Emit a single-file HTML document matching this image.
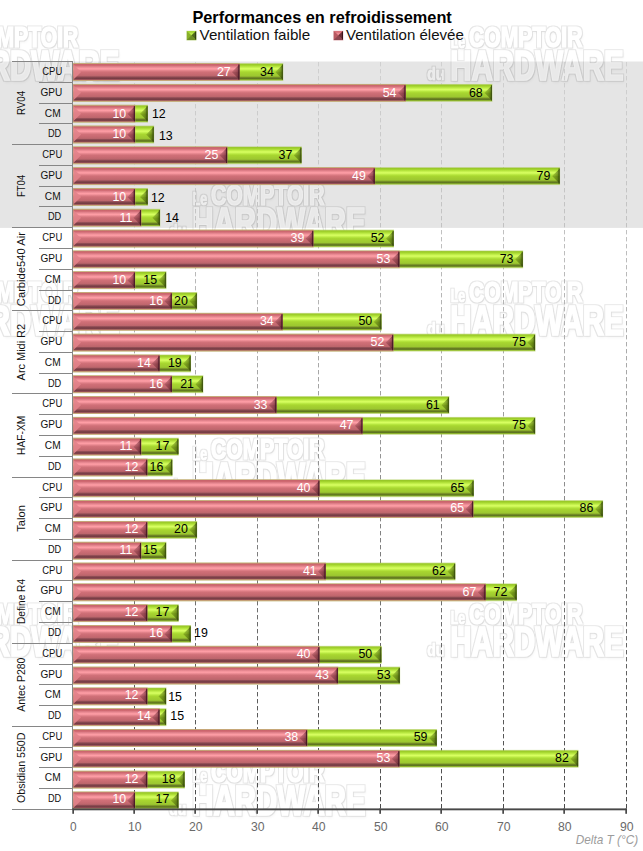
<!DOCTYPE html><html><head><meta charset="utf-8"><title>Performances en refroidissement</title>
<style>html,body{margin:0;padding:0;background:#fff;}body{width:643px;height:851px;overflow:hidden;}svg{display:block;}text{font-family:"Liberation Sans",sans-serif;}</style></head><body>
<svg width="643" height="851" viewBox="0 0 643 851">
<defs>
<linearGradient id="gr" x1="0" y1="0" x2="0" y2="1"><stop offset="0" stop-color="#c49474"/><stop offset="0.03" stop-color="#c8646c"/><stop offset="0.1" stop-color="#d06a72"/><stop offset="0.17" stop-color="#e0808a"/><stop offset="0.25" stop-color="#f4949c"/><stop offset="0.3" stop-color="#ff9ea6"/><stop offset="0.35" stop-color="#f4949c"/><stop offset="0.42" stop-color="#e08088"/><stop offset="0.5" stop-color="#d07078"/><stop offset="0.62" stop-color="#c86a72"/><stop offset="0.74" stop-color="#bc666c"/><stop offset="0.78" stop-color="#98525a"/><stop offset="0.85" stop-color="#7c4048"/><stop offset="0.9" stop-color="#743c44"/><stop offset="0.95" stop-color="#985058"/><stop offset="0.98" stop-color="#b47868"/><stop offset="1" stop-color="#c8a078"/></linearGradient>
<linearGradient id="gg" x1="0" y1="0" x2="0" y2="1"><stop offset="0" stop-color="#a4cc38"/><stop offset="0.03" stop-color="#98c828"/><stop offset="0.1" stop-color="#a4d42e"/><stop offset="0.17" stop-color="#b6e63e"/><stop offset="0.25" stop-color="#ccf656"/><stop offset="0.3" stop-color="#d8ff60"/><stop offset="0.35" stop-color="#ccf656"/><stop offset="0.42" stop-color="#b6e63e"/><stop offset="0.5" stop-color="#a8d630"/><stop offset="0.62" stop-color="#a2ce30"/><stop offset="0.74" stop-color="#9cc830"/><stop offset="0.79" stop-color="#88a82c"/><stop offset="0.85" stop-color="#687e22"/><stop offset="0.91" stop-color="#5c7420"/><stop offset="0.95" stop-color="#80a428"/><stop offset="0.98" stop-color="#98c030"/><stop offset="1" stop-color="#a8c858"/></linearGradient>
<linearGradient id="tr" x1="0" y1="0" x2="1" y2="0"><stop offset="0" stop-color="#7a303c" stop-opacity="0.22"/><stop offset="0.6" stop-color="#6e2834" stop-opacity="0.5"/><stop offset="1" stop-color="#501824" stop-opacity="0.72"/></linearGradient>
<linearGradient id="tg" x1="0" y1="0" x2="1" y2="0"><stop offset="0" stop-color="#4a6400" stop-opacity="0.2"/><stop offset="0.6" stop-color="#3e5604" stop-opacity="0.48"/><stop offset="1" stop-color="#2c4004" stop-opacity="0.72"/></linearGradient>
<linearGradient id="grid" gradientUnits="userSpaceOnUse" x1="0" y1="62" x2="0" y2="810">
<stop offset="0" stop-color="#d0d0d0"/><stop offset="0.22" stop-color="#c2c2c2"/><stop offset="0.4" stop-color="#aaaaaa"/><stop offset="0.81" stop-color="#626262"/><stop offset="1" stop-color="#4a4a4a"/>
</linearGradient>
<filter id="logo" x="-8%" y="-20%" width="116%" height="150%" color-interpolation-filters="sRGB">
 <feMorphology in="SourceAlpha" operator="dilate" radius="0.7" result="d"/>
 <feGaussianBlur in="d" stdDeviation="0.55" result="db"/>
 <feComposite in="db" in2="SourceAlpha" operator="out" result="ring"/>
 <feFlood flood-color="#000" flood-opacity="0.095"/><feComposite in2="ring" operator="in" result="ringc"/>
 <feGaussianBlur in="SourceAlpha" stdDeviation="1.3" result="sb"/>
 <feOffset in="sb" dx="0.8" dy="1.6" result="sbo"/>
 <feComposite in="sbo" in2="SourceAlpha" operator="out" result="sh"/>
 <feFlood flood-color="#000" flood-opacity="0.04"/><feComposite in2="sh" operator="in" result="shc"/>
 <feMorphology in="SourceAlpha" operator="erode" radius="0.8" result="e"/>
 <feComposite in="SourceAlpha" in2="e" operator="out" result="inner"/>
 <feFlood flood-color="#fff" flood-opacity="0.18"/><feComposite in2="inner" operator="in" result="innerc"/>
 <feFlood flood-color="#fff" flood-opacity="0.16"/><feComposite in2="SourceAlpha" operator="in" result="fillc"/>
 <feMerge><feMergeNode in="shc"/><feMergeNode in="ringc"/><feMergeNode in="fillc"/><feMergeNode in="innerc"/></feMerge>
</filter>
<g id="wm" filter="url(#logo)" fill="#fff" stroke="#fff" stroke-linejoin="miter" font-weight="bold">
  <text x="19.5" y="21" font-size="29.3" stroke-width="1.2" textLength="113.5" lengthAdjust="spacingAndGlyphs">COMPTOIR</text>
  <text x="0.8" y="53.6" font-size="42.6" stroke-width="1.7" textLength="173.4" lengthAdjust="spacingAndGlyphs">HARDWARE</text>
  <text x="1.2" y="21.2" font-size="19" stroke-width="0.6" textLength="14.6" lengthAdjust="spacingAndGlyphs">Le</text>
  <text x="-22.3" y="53.8" font-size="19" stroke-width="0.6" textLength="17" lengthAdjust="spacingAndGlyphs">du</text>
</g>
</defs>
<rect x="0" y="0" width="643" height="851" fill="#ffffff"/>
<rect x="0" y="61.50" width="643" height="166.42" fill="#e5e5e5"/>
<use href="#wm" x="449.5" y="26.4"/>
<use href="#wm" x="449.5" y="281"/>
<use href="#wm" x="449.5" y="602.7"/>
<use href="#wm" x="-54.69999999999999" y="26.2"/>
<use href="#wm" x="-54.69999999999999" y="281"/>
<use href="#wm" x="-54.69999999999999" y="602.7"/>
<use href="#wm" x="191.5" y="183.6"/>
<use href="#wm" x="191.5" y="438.4"/>
<use href="#wm" x="191.5" y="761.2"/>
<line x1="134.5" y1="62.0" x2="134.5" y2="808.5" stroke="url(#grid)" stroke-width="1" stroke-dasharray="4.4 2.6"/>
<line x1="195.5" y1="62.0" x2="195.5" y2="808.5" stroke="url(#grid)" stroke-width="1" stroke-dasharray="4.4 2.6"/>
<line x1="257.5" y1="62.0" x2="257.5" y2="808.5" stroke="url(#grid)" stroke-width="1" stroke-dasharray="4.4 2.6"/>
<line x1="318.5" y1="62.0" x2="318.5" y2="808.5" stroke="url(#grid)" stroke-width="1" stroke-dasharray="4.4 2.6"/>
<line x1="380.5" y1="62.0" x2="380.5" y2="808.5" stroke="url(#grid)" stroke-width="1" stroke-dasharray="4.4 2.6"/>
<line x1="441.5" y1="62.0" x2="441.5" y2="808.5" stroke="url(#grid)" stroke-width="1" stroke-dasharray="4.4 2.6"/>
<line x1="503.5" y1="62.0" x2="503.5" y2="808.5" stroke="url(#grid)" stroke-width="1" stroke-dasharray="4.4 2.6"/>
<line x1="564.5" y1="62.0" x2="564.5" y2="808.5" stroke="url(#grid)" stroke-width="1" stroke-dasharray="4.4 2.6"/>
<line x1="626.5" y1="62.0" x2="626.5" y2="808.5" stroke="url(#grid)" stroke-width="1" stroke-dasharray="4.4 2.6"/>
<g stroke="#868686" stroke-width="1" shape-rendering="crispEdges">
<line x1="12" y1="61.5" x2="72.5" y2="61.5"/>
<line x1="12" y1="144.5" x2="72.5" y2="144.5"/>
<line x1="12" y1="227.5" x2="72.5" y2="227.5"/>
<line x1="12" y1="310.5" x2="72.5" y2="310.5"/>
<line x1="12" y1="393.5" x2="72.5" y2="393.5"/>
<line x1="12" y1="477.5" x2="72.5" y2="477.5"/>
<line x1="12" y1="560.5" x2="72.5" y2="560.5"/>
<line x1="12" y1="643.5" x2="72.5" y2="643.5"/>
<line x1="12" y1="726.5" x2="72.5" y2="726.5"/>
<line x1="12" y1="809.5" x2="72.5" y2="809.5"/>
<line x1="39" y1="82.5" x2="72.5" y2="82.5"/>
<line x1="39" y1="103.5" x2="72.5" y2="103.5"/>
<line x1="39" y1="123.5" x2="72.5" y2="123.5"/>
<line x1="39" y1="165.5" x2="72.5" y2="165.5"/>
<line x1="39" y1="186.5" x2="72.5" y2="186.5"/>
<line x1="39" y1="206.5" x2="72.5" y2="206.5"/>
<line x1="39" y1="248.5" x2="72.5" y2="248.5"/>
<line x1="39" y1="269.5" x2="72.5" y2="269.5"/>
<line x1="39" y1="290.5" x2="72.5" y2="290.5"/>
<line x1="39" y1="331.5" x2="72.5" y2="331.5"/>
<line x1="39" y1="352.5" x2="72.5" y2="352.5"/>
<line x1="39" y1="373.5" x2="72.5" y2="373.5"/>
<line x1="39" y1="414.5" x2="72.5" y2="414.5"/>
<line x1="39" y1="435.5" x2="72.5" y2="435.5"/>
<line x1="39" y1="456.5" x2="72.5" y2="456.5"/>
<line x1="39" y1="497.5" x2="72.5" y2="497.5"/>
<line x1="39" y1="518.5" x2="72.5" y2="518.5"/>
<line x1="39" y1="539.5" x2="72.5" y2="539.5"/>
<line x1="39" y1="580.5" x2="72.5" y2="580.5"/>
<line x1="39" y1="601.5" x2="72.5" y2="601.5"/>
<line x1="39" y1="622.5" x2="72.5" y2="622.5"/>
<line x1="39" y1="664.5" x2="72.5" y2="664.5"/>
<line x1="39" y1="684.5" x2="72.5" y2="684.5"/>
<line x1="39" y1="705.5" x2="72.5" y2="705.5"/>
<line x1="39" y1="747.5" x2="72.5" y2="747.5"/>
<line x1="39" y1="767.5" x2="72.5" y2="767.5"/>
<line x1="39" y1="788.5" x2="72.5" y2="788.5"/>
<line x1="72.5" y1="61.0" x2="72.5" y2="810.0"/>
</g>
<rect x="73.00" y="63.15" width="210.30" height="17.85" fill="#a8c850" opacity="0.6"/><rect x="73.50" y="63.80" width="209.40" height="16.50" fill="url(#gg)"/><path d="M73.50 64.60 L81.10 72.05 L73.50 79.50Z" fill="#b2da3c" opacity="0.9"/><path d="M282.90 64.60 L275.30 72.05 L282.90 79.50Z" fill="url(#tg)"/><path d="M282.90 72.05 L275.30 72.05 L282.90 79.50Z" fill="#000" opacity="0.06"/><rect x="281.80" y="64.30" width="1.1" height="15.50" fill="#3c5010" opacity="0.8"/>
<rect x="73.00" y="63.15" width="166.85" height="17.85" fill="#c8a078" opacity="0.8"/><rect x="73.50" y="63.80" width="165.95" height="16.50" fill="url(#gr)"/><path d="M73.50 64.60 L81.10 72.05 L73.50 79.50Z" fill="#e2838b" opacity="0.9"/><path d="M239.45 64.60 L231.85 72.05 L239.45 79.50Z" fill="url(#tr)"/><path d="M239.45 72.05 L231.85 72.05 L239.45 79.50Z" fill="#000" opacity="0.06"/><rect x="238.35" y="64.30" width="1.1" height="15.50" fill="#3c1420" opacity="0.8"/>
<rect x="73.00" y="83.96" width="419.40" height="17.85" fill="#a8c850" opacity="0.6"/><rect x="73.50" y="84.61" width="418.50" height="16.50" fill="url(#gg)"/><path d="M73.50 85.41 L81.10 92.86 L73.50 100.31Z" fill="#b2da3c" opacity="0.9"/><path d="M492.00 85.41 L484.40 92.86 L492.00 100.31Z" fill="url(#tg)"/><path d="M492.00 92.86 L484.40 92.86 L492.00 100.31Z" fill="#000" opacity="0.06"/><rect x="490.90" y="85.11" width="1.1" height="15.50" fill="#3c5010" opacity="0.8"/>
<rect x="73.00" y="83.96" width="332.90" height="17.85" fill="#c8a078" opacity="0.8"/><rect x="73.50" y="84.61" width="332.00" height="16.50" fill="url(#gr)"/><path d="M73.50 85.41 L81.10 92.86 L73.50 100.31Z" fill="#e2838b" opacity="0.9"/><path d="M405.50 85.41 L397.90 92.86 L405.50 100.31Z" fill="url(#tr)"/><path d="M405.50 92.86 L397.90 92.86 L405.50 100.31Z" fill="#000" opacity="0.06"/><rect x="404.40" y="85.11" width="1.1" height="15.50" fill="#3c1420" opacity="0.8"/>
<rect x="73.00" y="104.77" width="75.00" height="17.85" fill="#a8c850" opacity="0.6"/><rect x="73.50" y="105.42" width="74.10" height="16.50" fill="url(#gg)"/><path d="M73.50 106.22 L81.10 113.67 L73.50 121.12Z" fill="#b2da3c" opacity="0.9"/><path d="M147.60 106.22 L140.00 113.67 L147.60 121.12Z" fill="url(#tg)"/><path d="M147.60 113.67 L140.00 113.67 L147.60 121.12Z" fill="#000" opacity="0.06"/><rect x="146.50" y="105.92" width="1.1" height="15.50" fill="#3c5010" opacity="0.8"/>
<rect x="73.00" y="104.77" width="62.30" height="17.85" fill="#c8a078" opacity="0.8"/><rect x="73.50" y="105.42" width="61.40" height="16.50" fill="url(#gr)"/><path d="M73.50 106.22 L81.10 113.67 L73.50 121.12Z" fill="#e2838b" opacity="0.9"/><path d="M134.90 106.22 L127.30 113.67 L134.90 121.12Z" fill="url(#tr)"/><path d="M134.90 113.67 L127.30 113.67 L134.90 121.12Z" fill="#000" opacity="0.06"/><rect x="133.80" y="105.92" width="1.1" height="15.50" fill="#3c1420" opacity="0.8"/>
<rect x="73.00" y="125.58" width="81.15" height="17.85" fill="#a8c850" opacity="0.6"/><rect x="73.50" y="126.23" width="80.25" height="16.50" fill="url(#gg)"/><path d="M73.50 127.03 L81.10 134.48 L73.50 141.93Z" fill="#b2da3c" opacity="0.9"/><path d="M153.75 127.03 L146.15 134.48 L153.75 141.93Z" fill="url(#tg)"/><path d="M153.75 134.48 L146.15 134.48 L153.75 141.93Z" fill="#000" opacity="0.06"/><rect x="152.65" y="126.73" width="1.1" height="15.50" fill="#3c5010" opacity="0.8"/>
<rect x="73.00" y="125.58" width="62.30" height="17.85" fill="#c8a078" opacity="0.8"/><rect x="73.50" y="126.23" width="61.40" height="16.50" fill="url(#gr)"/><path d="M73.50 127.03 L81.10 134.48 L73.50 141.93Z" fill="#e2838b" opacity="0.9"/><path d="M134.90 127.03 L127.30 134.48 L134.90 141.93Z" fill="url(#tr)"/><path d="M134.90 134.48 L127.30 134.48 L134.90 141.93Z" fill="#000" opacity="0.06"/><rect x="133.80" y="126.73" width="1.1" height="15.50" fill="#3c1420" opacity="0.8"/>
<rect x="73.00" y="146.39" width="228.75" height="17.85" fill="#a8c850" opacity="0.6"/><rect x="73.50" y="147.04" width="227.85" height="16.50" fill="url(#gg)"/><path d="M73.50 147.84 L81.10 155.29 L73.50 162.74Z" fill="#b2da3c" opacity="0.9"/><path d="M301.35 147.84 L293.75 155.29 L301.35 162.74Z" fill="url(#tg)"/><path d="M301.35 155.29 L293.75 155.29 L301.35 162.74Z" fill="#000" opacity="0.06"/><rect x="300.25" y="147.54" width="1.1" height="15.50" fill="#3c5010" opacity="0.8"/>
<rect x="73.00" y="146.39" width="154.55" height="17.85" fill="#c8a078" opacity="0.8"/><rect x="73.50" y="147.04" width="153.65" height="16.50" fill="url(#gr)"/><path d="M73.50 147.84 L81.10 155.29 L73.50 162.74Z" fill="#e2838b" opacity="0.9"/><path d="M227.15 147.84 L219.55 155.29 L227.15 162.74Z" fill="url(#tr)"/><path d="M227.15 155.29 L219.55 155.29 L227.15 162.74Z" fill="#000" opacity="0.06"/><rect x="226.05" y="147.54" width="1.1" height="15.50" fill="#3c1420" opacity="0.8"/>
<rect x="73.00" y="167.20" width="487.05" height="17.85" fill="#a8c850" opacity="0.6"/><rect x="73.50" y="167.85" width="486.15" height="16.50" fill="url(#gg)"/><path d="M73.50 168.65 L81.10 176.10 L73.50 183.55Z" fill="#b2da3c" opacity="0.9"/><path d="M559.65 168.65 L552.05 176.10 L559.65 183.55Z" fill="url(#tg)"/><path d="M559.65 176.10 L552.05 176.10 L559.65 183.55Z" fill="#000" opacity="0.06"/><rect x="558.55" y="168.35" width="1.1" height="15.50" fill="#3c5010" opacity="0.8"/>
<rect x="73.00" y="167.20" width="302.15" height="17.85" fill="#c8a078" opacity="0.8"/><rect x="73.50" y="167.85" width="301.25" height="16.50" fill="url(#gr)"/><path d="M73.50 168.65 L81.10 176.10 L73.50 183.55Z" fill="#e2838b" opacity="0.9"/><path d="M374.75 168.65 L367.15 176.10 L374.75 183.55Z" fill="url(#tr)"/><path d="M374.75 176.10 L367.15 176.10 L374.75 183.55Z" fill="#000" opacity="0.06"/><rect x="373.65" y="168.35" width="1.1" height="15.50" fill="#3c1420" opacity="0.8"/>
<rect x="73.00" y="188.01" width="75.00" height="17.85" fill="#a8c850" opacity="0.6"/><rect x="73.50" y="188.66" width="74.10" height="16.50" fill="url(#gg)"/><path d="M73.50 189.46 L81.10 196.91 L73.50 204.36Z" fill="#b2da3c" opacity="0.9"/><path d="M147.60 189.46 L140.00 196.91 L147.60 204.36Z" fill="url(#tg)"/><path d="M147.60 196.91 L140.00 196.91 L147.60 204.36Z" fill="#000" opacity="0.06"/><rect x="146.50" y="189.16" width="1.1" height="15.50" fill="#3c5010" opacity="0.8"/>
<rect x="73.00" y="188.01" width="62.30" height="17.85" fill="#c8a078" opacity="0.8"/><rect x="73.50" y="188.66" width="61.40" height="16.50" fill="url(#gr)"/><path d="M73.50 189.46 L81.10 196.91 L73.50 204.36Z" fill="#e2838b" opacity="0.9"/><path d="M134.90 189.46 L127.30 196.91 L134.90 204.36Z" fill="url(#tr)"/><path d="M134.90 196.91 L127.30 196.91 L134.90 204.36Z" fill="#000" opacity="0.06"/><rect x="133.80" y="189.16" width="1.1" height="15.50" fill="#3c1420" opacity="0.8"/>
<rect x="73.00" y="208.82" width="87.30" height="17.85" fill="#a8c850" opacity="0.6"/><rect x="73.50" y="209.47" width="86.40" height="16.50" fill="url(#gg)"/><path d="M73.50 210.27 L81.10 217.72 L73.50 225.17Z" fill="#b2da3c" opacity="0.9"/><path d="M159.90 210.27 L152.30 217.72 L159.90 225.17Z" fill="url(#tg)"/><path d="M159.90 217.72 L152.30 217.72 L159.90 225.17Z" fill="#000" opacity="0.06"/><rect x="158.80" y="209.97" width="1.1" height="15.50" fill="#3c5010" opacity="0.8"/>
<rect x="73.00" y="208.82" width="68.45" height="17.85" fill="#c8a078" opacity="0.8"/><rect x="73.50" y="209.47" width="67.55" height="16.50" fill="url(#gr)"/><path d="M73.50 210.27 L81.10 217.72 L73.50 225.17Z" fill="#e2838b" opacity="0.9"/><path d="M141.05 210.27 L133.45 217.72 L141.05 225.17Z" fill="url(#tr)"/><path d="M141.05 217.72 L133.45 217.72 L141.05 225.17Z" fill="#000" opacity="0.06"/><rect x="139.95" y="209.97" width="1.1" height="15.50" fill="#3c1420" opacity="0.8"/>
<rect x="73.00" y="229.63" width="321.00" height="17.85" fill="#a8c850" opacity="0.6"/><rect x="73.50" y="230.28" width="320.10" height="16.50" fill="url(#gg)"/><path d="M73.50 231.08 L81.10 238.53 L73.50 245.98Z" fill="#b2da3c" opacity="0.9"/><path d="M393.60 231.08 L386.00 238.53 L393.60 245.98Z" fill="url(#tg)"/><path d="M393.60 238.53 L386.00 238.53 L393.60 245.98Z" fill="#000" opacity="0.06"/><rect x="392.50" y="230.78" width="1.1" height="15.50" fill="#3c5010" opacity="0.8"/>
<rect x="73.00" y="229.63" width="240.65" height="17.85" fill="#c8a078" opacity="0.8"/><rect x="73.50" y="230.28" width="239.75" height="16.50" fill="url(#gr)"/><path d="M73.50 231.08 L81.10 238.53 L73.50 245.98Z" fill="#e2838b" opacity="0.9"/><path d="M313.25 231.08 L305.65 238.53 L313.25 245.98Z" fill="url(#tr)"/><path d="M313.25 238.53 L305.65 238.53 L313.25 245.98Z" fill="#000" opacity="0.06"/><rect x="312.15" y="230.78" width="1.1" height="15.50" fill="#3c1420" opacity="0.8"/>
<rect x="73.00" y="250.44" width="450.15" height="17.85" fill="#a8c850" opacity="0.6"/><rect x="73.50" y="251.09" width="449.25" height="16.50" fill="url(#gg)"/><path d="M73.50 251.89 L81.10 259.34 L73.50 266.79Z" fill="#b2da3c" opacity="0.9"/><path d="M522.75 251.89 L515.15 259.34 L522.75 266.79Z" fill="url(#tg)"/><path d="M522.75 259.34 L515.15 259.34 L522.75 266.79Z" fill="#000" opacity="0.06"/><rect x="521.65" y="251.59" width="1.1" height="15.50" fill="#3c5010" opacity="0.8"/>
<rect x="73.00" y="250.44" width="326.75" height="17.85" fill="#c8a078" opacity="0.8"/><rect x="73.50" y="251.09" width="325.85" height="16.50" fill="url(#gr)"/><path d="M73.50 251.89 L81.10 259.34 L73.50 266.79Z" fill="#e2838b" opacity="0.9"/><path d="M399.35 251.89 L391.75 259.34 L399.35 266.79Z" fill="url(#tr)"/><path d="M399.35 259.34 L391.75 259.34 L399.35 266.79Z" fill="#000" opacity="0.06"/><rect x="398.25" y="251.59" width="1.1" height="15.50" fill="#3c1420" opacity="0.8"/>
<rect x="73.00" y="271.25" width="93.45" height="17.85" fill="#a8c850" opacity="0.6"/><rect x="73.50" y="271.90" width="92.55" height="16.50" fill="url(#gg)"/><path d="M73.50 272.70 L81.10 280.15 L73.50 287.60Z" fill="#b2da3c" opacity="0.9"/><path d="M166.05 272.70 L158.45 280.15 L166.05 287.60Z" fill="url(#tg)"/><path d="M166.05 280.15 L158.45 280.15 L166.05 287.60Z" fill="#000" opacity="0.06"/><rect x="164.95" y="272.40" width="1.1" height="15.50" fill="#3c5010" opacity="0.8"/>
<rect x="73.00" y="271.25" width="62.30" height="17.85" fill="#c8a078" opacity="0.8"/><rect x="73.50" y="271.90" width="61.40" height="16.50" fill="url(#gr)"/><path d="M73.50 272.70 L81.10 280.15 L73.50 287.60Z" fill="#e2838b" opacity="0.9"/><path d="M134.90 272.70 L127.30 280.15 L134.90 287.60Z" fill="url(#tr)"/><path d="M134.90 280.15 L127.30 280.15 L134.90 287.60Z" fill="#000" opacity="0.06"/><rect x="133.80" y="272.40" width="1.1" height="15.50" fill="#3c1420" opacity="0.8"/>
<rect x="73.00" y="292.06" width="124.20" height="17.85" fill="#a8c850" opacity="0.6"/><rect x="73.50" y="292.71" width="123.30" height="16.50" fill="url(#gg)"/><path d="M73.50 293.51 L81.10 300.96 L73.50 308.41Z" fill="#b2da3c" opacity="0.9"/><path d="M196.80 293.51 L189.20 300.96 L196.80 308.41Z" fill="url(#tg)"/><path d="M196.80 300.96 L189.20 300.96 L196.80 308.41Z" fill="#000" opacity="0.06"/><rect x="195.70" y="293.21" width="1.1" height="15.50" fill="#3c5010" opacity="0.8"/>
<rect x="73.00" y="292.06" width="99.20" height="17.85" fill="#c8a078" opacity="0.8"/><rect x="73.50" y="292.71" width="98.30" height="16.50" fill="url(#gr)"/><path d="M73.50 293.51 L81.10 300.96 L73.50 308.41Z" fill="#e2838b" opacity="0.9"/><path d="M171.80 293.51 L164.20 300.96 L171.80 308.41Z" fill="url(#tr)"/><path d="M171.80 300.96 L164.20 300.96 L171.80 308.41Z" fill="#000" opacity="0.06"/><rect x="170.70" y="293.21" width="1.1" height="15.50" fill="#3c1420" opacity="0.8"/>
<rect x="73.00" y="312.87" width="308.70" height="17.85" fill="#a8c850" opacity="0.6"/><rect x="73.50" y="313.52" width="307.80" height="16.50" fill="url(#gg)"/><path d="M73.50 314.32 L81.10 321.77 L73.50 329.22Z" fill="#b2da3c" opacity="0.9"/><path d="M381.30 314.32 L373.70 321.77 L381.30 329.22Z" fill="url(#tg)"/><path d="M381.30 321.77 L373.70 321.77 L381.30 329.22Z" fill="#000" opacity="0.06"/><rect x="380.20" y="314.02" width="1.1" height="15.50" fill="#3c5010" opacity="0.8"/>
<rect x="73.00" y="312.87" width="209.90" height="17.85" fill="#c8a078" opacity="0.8"/><rect x="73.50" y="313.52" width="209.00" height="16.50" fill="url(#gr)"/><path d="M73.50 314.32 L81.10 321.77 L73.50 329.22Z" fill="#e2838b" opacity="0.9"/><path d="M282.50 314.32 L274.90 321.77 L282.50 329.22Z" fill="url(#tr)"/><path d="M282.50 321.77 L274.90 321.77 L282.50 329.22Z" fill="#000" opacity="0.06"/><rect x="281.40" y="314.02" width="1.1" height="15.50" fill="#3c1420" opacity="0.8"/>
<rect x="73.00" y="333.68" width="462.45" height="17.85" fill="#a8c850" opacity="0.6"/><rect x="73.50" y="334.33" width="461.55" height="16.50" fill="url(#gg)"/><path d="M73.50 335.13 L81.10 342.58 L73.50 350.03Z" fill="#b2da3c" opacity="0.9"/><path d="M535.05 335.13 L527.45 342.58 L535.05 350.03Z" fill="url(#tg)"/><path d="M535.05 342.58 L527.45 342.58 L535.05 350.03Z" fill="#000" opacity="0.06"/><rect x="533.95" y="334.83" width="1.1" height="15.50" fill="#3c5010" opacity="0.8"/>
<rect x="73.00" y="333.68" width="320.60" height="17.85" fill="#c8a078" opacity="0.8"/><rect x="73.50" y="334.33" width="319.70" height="16.50" fill="url(#gr)"/><path d="M73.50 335.13 L81.10 342.58 L73.50 350.03Z" fill="#e2838b" opacity="0.9"/><path d="M393.20 335.13 L385.60 342.58 L393.20 350.03Z" fill="url(#tr)"/><path d="M393.20 342.58 L385.60 342.58 L393.20 350.03Z" fill="#000" opacity="0.06"/><rect x="392.10" y="334.83" width="1.1" height="15.50" fill="#3c1420" opacity="0.8"/>
<rect x="73.00" y="354.49" width="118.05" height="17.85" fill="#a8c850" opacity="0.6"/><rect x="73.50" y="355.14" width="117.15" height="16.50" fill="url(#gg)"/><path d="M73.50 355.94 L81.10 363.39 L73.50 370.84Z" fill="#b2da3c" opacity="0.9"/><path d="M190.65 355.94 L183.05 363.39 L190.65 370.84Z" fill="url(#tg)"/><path d="M190.65 363.39 L183.05 363.39 L190.65 370.84Z" fill="#000" opacity="0.06"/><rect x="189.55" y="355.64" width="1.1" height="15.50" fill="#3c5010" opacity="0.8"/>
<rect x="73.00" y="354.49" width="86.90" height="17.85" fill="#c8a078" opacity="0.8"/><rect x="73.50" y="355.14" width="86.00" height="16.50" fill="url(#gr)"/><path d="M73.50 355.94 L81.10 363.39 L73.50 370.84Z" fill="#e2838b" opacity="0.9"/><path d="M159.50 355.94 L151.90 363.39 L159.50 370.84Z" fill="url(#tr)"/><path d="M159.50 363.39 L151.90 363.39 L159.50 370.84Z" fill="#000" opacity="0.06"/><rect x="158.40" y="355.64" width="1.1" height="15.50" fill="#3c1420" opacity="0.8"/>
<rect x="73.00" y="375.30" width="130.35" height="17.85" fill="#a8c850" opacity="0.6"/><rect x="73.50" y="375.95" width="129.45" height="16.50" fill="url(#gg)"/><path d="M73.50 376.75 L81.10 384.20 L73.50 391.65Z" fill="#b2da3c" opacity="0.9"/><path d="M202.95 376.75 L195.35 384.20 L202.95 391.65Z" fill="url(#tg)"/><path d="M202.95 384.20 L195.35 384.20 L202.95 391.65Z" fill="#000" opacity="0.06"/><rect x="201.85" y="376.45" width="1.1" height="15.50" fill="#3c5010" opacity="0.8"/>
<rect x="73.00" y="375.30" width="99.20" height="17.85" fill="#c8a078" opacity="0.8"/><rect x="73.50" y="375.95" width="98.30" height="16.50" fill="url(#gr)"/><path d="M73.50 376.75 L81.10 384.20 L73.50 391.65Z" fill="#e2838b" opacity="0.9"/><path d="M171.80 376.75 L164.20 384.20 L171.80 391.65Z" fill="url(#tr)"/><path d="M171.80 384.20 L164.20 384.20 L171.80 391.65Z" fill="#000" opacity="0.06"/><rect x="170.70" y="376.45" width="1.1" height="15.50" fill="#3c1420" opacity="0.8"/>
<rect x="73.00" y="396.11" width="376.35" height="17.85" fill="#a8c850" opacity="0.6"/><rect x="73.50" y="396.76" width="375.45" height="16.50" fill="url(#gg)"/><path d="M73.50 397.56 L81.10 405.01 L73.50 412.46Z" fill="#b2da3c" opacity="0.9"/><path d="M448.95 397.56 L441.35 405.01 L448.95 412.46Z" fill="url(#tg)"/><path d="M448.95 405.01 L441.35 405.01 L448.95 412.46Z" fill="#000" opacity="0.06"/><rect x="447.85" y="397.26" width="1.1" height="15.50" fill="#3c5010" opacity="0.8"/>
<rect x="73.00" y="396.11" width="203.75" height="17.85" fill="#c8a078" opacity="0.8"/><rect x="73.50" y="396.76" width="202.85" height="16.50" fill="url(#gr)"/><path d="M73.50 397.56 L81.10 405.01 L73.50 412.46Z" fill="#e2838b" opacity="0.9"/><path d="M276.35 397.56 L268.75 405.01 L276.35 412.46Z" fill="url(#tr)"/><path d="M276.35 405.01 L268.75 405.01 L276.35 412.46Z" fill="#000" opacity="0.06"/><rect x="275.25" y="397.26" width="1.1" height="15.50" fill="#3c1420" opacity="0.8"/>
<rect x="73.00" y="416.92" width="462.45" height="17.85" fill="#a8c850" opacity="0.6"/><rect x="73.50" y="417.57" width="461.55" height="16.50" fill="url(#gg)"/><path d="M73.50 418.37 L81.10 425.82 L73.50 433.27Z" fill="#b2da3c" opacity="0.9"/><path d="M535.05 418.37 L527.45 425.82 L535.05 433.27Z" fill="url(#tg)"/><path d="M535.05 425.82 L527.45 425.82 L535.05 433.27Z" fill="#000" opacity="0.06"/><rect x="533.95" y="418.07" width="1.1" height="15.50" fill="#3c5010" opacity="0.8"/>
<rect x="73.00" y="416.92" width="289.85" height="17.85" fill="#c8a078" opacity="0.8"/><rect x="73.50" y="417.57" width="288.95" height="16.50" fill="url(#gr)"/><path d="M73.50 418.37 L81.10 425.82 L73.50 433.27Z" fill="#e2838b" opacity="0.9"/><path d="M362.45 418.37 L354.85 425.82 L362.45 433.27Z" fill="url(#tr)"/><path d="M362.45 425.82 L354.85 425.82 L362.45 433.27Z" fill="#000" opacity="0.06"/><rect x="361.35" y="418.07" width="1.1" height="15.50" fill="#3c1420" opacity="0.8"/>
<rect x="73.00" y="437.73" width="105.75" height="17.85" fill="#a8c850" opacity="0.6"/><rect x="73.50" y="438.38" width="104.85" height="16.50" fill="url(#gg)"/><path d="M73.50 439.18 L81.10 446.63 L73.50 454.08Z" fill="#b2da3c" opacity="0.9"/><path d="M178.35 439.18 L170.75 446.63 L178.35 454.08Z" fill="url(#tg)"/><path d="M178.35 446.63 L170.75 446.63 L178.35 454.08Z" fill="#000" opacity="0.06"/><rect x="177.25" y="438.88" width="1.1" height="15.50" fill="#3c5010" opacity="0.8"/>
<rect x="73.00" y="437.73" width="68.45" height="17.85" fill="#c8a078" opacity="0.8"/><rect x="73.50" y="438.38" width="67.55" height="16.50" fill="url(#gr)"/><path d="M73.50 439.18 L81.10 446.63 L73.50 454.08Z" fill="#e2838b" opacity="0.9"/><path d="M141.05 439.18 L133.45 446.63 L141.05 454.08Z" fill="url(#tr)"/><path d="M141.05 446.63 L133.45 446.63 L141.05 454.08Z" fill="#000" opacity="0.06"/><rect x="139.95" y="438.88" width="1.1" height="15.50" fill="#3c1420" opacity="0.8"/>
<rect x="73.00" y="458.54" width="99.60" height="17.85" fill="#a8c850" opacity="0.6"/><rect x="73.50" y="459.19" width="98.70" height="16.50" fill="url(#gg)"/><path d="M73.50 459.99 L81.10 467.44 L73.50 474.89Z" fill="#b2da3c" opacity="0.9"/><path d="M172.20 459.99 L164.60 467.44 L172.20 474.89Z" fill="url(#tg)"/><path d="M172.20 467.44 L164.60 467.44 L172.20 474.89Z" fill="#000" opacity="0.06"/><rect x="171.10" y="459.69" width="1.1" height="15.50" fill="#3c5010" opacity="0.8"/>
<rect x="73.00" y="458.54" width="74.60" height="17.85" fill="#c8a078" opacity="0.8"/><rect x="73.50" y="459.19" width="73.70" height="16.50" fill="url(#gr)"/><path d="M73.50 459.99 L81.10 467.44 L73.50 474.89Z" fill="#e2838b" opacity="0.9"/><path d="M147.20 459.99 L139.60 467.44 L147.20 474.89Z" fill="url(#tr)"/><path d="M147.20 467.44 L139.60 467.44 L147.20 474.89Z" fill="#000" opacity="0.06"/><rect x="146.10" y="459.69" width="1.1" height="15.50" fill="#3c1420" opacity="0.8"/>
<rect x="73.00" y="479.35" width="400.95" height="17.85" fill="#a8c850" opacity="0.6"/><rect x="73.50" y="480.00" width="400.05" height="16.50" fill="url(#gg)"/><path d="M73.50 480.80 L81.10 488.25 L73.50 495.70Z" fill="#b2da3c" opacity="0.9"/><path d="M473.55 480.80 L465.95 488.25 L473.55 495.70Z" fill="url(#tg)"/><path d="M473.55 488.25 L465.95 488.25 L473.55 495.70Z" fill="#000" opacity="0.06"/><rect x="472.45" y="480.50" width="1.1" height="15.50" fill="#3c5010" opacity="0.8"/>
<rect x="73.00" y="479.35" width="246.80" height="17.85" fill="#c8a078" opacity="0.8"/><rect x="73.50" y="480.00" width="245.90" height="16.50" fill="url(#gr)"/><path d="M73.50 480.80 L81.10 488.25 L73.50 495.70Z" fill="#e2838b" opacity="0.9"/><path d="M319.40 480.80 L311.80 488.25 L319.40 495.70Z" fill="url(#tr)"/><path d="M319.40 488.25 L311.80 488.25 L319.40 495.70Z" fill="#000" opacity="0.06"/><rect x="318.30" y="480.50" width="1.1" height="15.50" fill="#3c1420" opacity="0.8"/>
<rect x="73.00" y="500.16" width="530.10" height="17.85" fill="#a8c850" opacity="0.6"/><rect x="73.50" y="500.81" width="529.20" height="16.50" fill="url(#gg)"/><path d="M73.50 501.61 L81.10 509.06 L73.50 516.51Z" fill="#b2da3c" opacity="0.9"/><path d="M602.70 501.61 L595.10 509.06 L602.70 516.51Z" fill="url(#tg)"/><path d="M602.70 509.06 L595.10 509.06 L602.70 516.51Z" fill="#000" opacity="0.06"/><rect x="601.60" y="501.31" width="1.1" height="15.50" fill="#3c5010" opacity="0.8"/>
<rect x="73.00" y="500.16" width="400.55" height="17.85" fill="#c8a078" opacity="0.8"/><rect x="73.50" y="500.81" width="399.65" height="16.50" fill="url(#gr)"/><path d="M73.50 501.61 L81.10 509.06 L73.50 516.51Z" fill="#e2838b" opacity="0.9"/><path d="M473.15 501.61 L465.55 509.06 L473.15 516.51Z" fill="url(#tr)"/><path d="M473.15 509.06 L465.55 509.06 L473.15 516.51Z" fill="#000" opacity="0.06"/><rect x="472.05" y="501.31" width="1.1" height="15.50" fill="#3c1420" opacity="0.8"/>
<rect x="73.00" y="520.97" width="124.20" height="17.85" fill="#a8c850" opacity="0.6"/><rect x="73.50" y="521.62" width="123.30" height="16.50" fill="url(#gg)"/><path d="M73.50 522.42 L81.10 529.87 L73.50 537.32Z" fill="#b2da3c" opacity="0.9"/><path d="M196.80 522.42 L189.20 529.87 L196.80 537.32Z" fill="url(#tg)"/><path d="M196.80 529.87 L189.20 529.87 L196.80 537.32Z" fill="#000" opacity="0.06"/><rect x="195.70" y="522.12" width="1.1" height="15.50" fill="#3c5010" opacity="0.8"/>
<rect x="73.00" y="520.97" width="74.60" height="17.85" fill="#c8a078" opacity="0.8"/><rect x="73.50" y="521.62" width="73.70" height="16.50" fill="url(#gr)"/><path d="M73.50 522.42 L81.10 529.87 L73.50 537.32Z" fill="#e2838b" opacity="0.9"/><path d="M147.20 522.42 L139.60 529.87 L147.20 537.32Z" fill="url(#tr)"/><path d="M147.20 529.87 L139.60 529.87 L147.20 537.32Z" fill="#000" opacity="0.06"/><rect x="146.10" y="522.12" width="1.1" height="15.50" fill="#3c1420" opacity="0.8"/>
<rect x="73.00" y="541.78" width="93.45" height="17.85" fill="#a8c850" opacity="0.6"/><rect x="73.50" y="542.43" width="92.55" height="16.50" fill="url(#gg)"/><path d="M73.50 543.23 L81.10 550.68 L73.50 558.13Z" fill="#b2da3c" opacity="0.9"/><path d="M166.05 543.23 L158.45 550.68 L166.05 558.13Z" fill="url(#tg)"/><path d="M166.05 550.68 L158.45 550.68 L166.05 558.13Z" fill="#000" opacity="0.06"/><rect x="164.95" y="542.93" width="1.1" height="15.50" fill="#3c5010" opacity="0.8"/>
<rect x="73.00" y="541.78" width="68.45" height="17.85" fill="#c8a078" opacity="0.8"/><rect x="73.50" y="542.43" width="67.55" height="16.50" fill="url(#gr)"/><path d="M73.50 543.23 L81.10 550.68 L73.50 558.13Z" fill="#e2838b" opacity="0.9"/><path d="M141.05 543.23 L133.45 550.68 L141.05 558.13Z" fill="url(#tr)"/><path d="M141.05 550.68 L133.45 550.68 L141.05 558.13Z" fill="#000" opacity="0.06"/><rect x="139.95" y="542.93" width="1.1" height="15.50" fill="#3c1420" opacity="0.8"/>
<rect x="73.00" y="562.59" width="382.50" height="17.85" fill="#a8c850" opacity="0.6"/><rect x="73.50" y="563.24" width="381.60" height="16.50" fill="url(#gg)"/><path d="M73.50 564.04 L81.10 571.49 L73.50 578.94Z" fill="#b2da3c" opacity="0.9"/><path d="M455.10 564.04 L447.50 571.49 L455.10 578.94Z" fill="url(#tg)"/><path d="M455.10 571.49 L447.50 571.49 L455.10 578.94Z" fill="#000" opacity="0.06"/><rect x="454.00" y="563.74" width="1.1" height="15.50" fill="#3c5010" opacity="0.8"/>
<rect x="73.00" y="562.59" width="252.95" height="17.85" fill="#c8a078" opacity="0.8"/><rect x="73.50" y="563.24" width="252.05" height="16.50" fill="url(#gr)"/><path d="M73.50 564.04 L81.10 571.49 L73.50 578.94Z" fill="#e2838b" opacity="0.9"/><path d="M325.55 564.04 L317.95 571.49 L325.55 578.94Z" fill="url(#tr)"/><path d="M325.55 571.49 L317.95 571.49 L325.55 578.94Z" fill="#000" opacity="0.06"/><rect x="324.45" y="563.74" width="1.1" height="15.50" fill="#3c1420" opacity="0.8"/>
<rect x="73.00" y="583.40" width="444.00" height="17.85" fill="#a8c850" opacity="0.6"/><rect x="73.50" y="584.05" width="443.10" height="16.50" fill="url(#gg)"/><path d="M73.50 584.85 L81.10 592.30 L73.50 599.75Z" fill="#b2da3c" opacity="0.9"/><path d="M516.60 584.85 L509.00 592.30 L516.60 599.75Z" fill="url(#tg)"/><path d="M516.60 592.30 L509.00 592.30 L516.60 599.75Z" fill="#000" opacity="0.06"/><rect x="515.50" y="584.55" width="1.1" height="15.50" fill="#3c5010" opacity="0.8"/>
<rect x="73.00" y="583.40" width="412.85" height="17.85" fill="#c8a078" opacity="0.8"/><rect x="73.50" y="584.05" width="411.95" height="16.50" fill="url(#gr)"/><path d="M73.50 584.85 L81.10 592.30 L73.50 599.75Z" fill="#e2838b" opacity="0.9"/><path d="M485.45 584.85 L477.85 592.30 L485.45 599.75Z" fill="url(#tr)"/><path d="M485.45 592.30 L477.85 592.30 L485.45 599.75Z" fill="#000" opacity="0.06"/><rect x="484.35" y="584.55" width="1.1" height="15.50" fill="#3c1420" opacity="0.8"/>
<rect x="73.00" y="604.21" width="105.75" height="17.85" fill="#a8c850" opacity="0.6"/><rect x="73.50" y="604.86" width="104.85" height="16.50" fill="url(#gg)"/><path d="M73.50 605.66 L81.10 613.11 L73.50 620.56Z" fill="#b2da3c" opacity="0.9"/><path d="M178.35 605.66 L170.75 613.11 L178.35 620.56Z" fill="url(#tg)"/><path d="M178.35 613.11 L170.75 613.11 L178.35 620.56Z" fill="#000" opacity="0.06"/><rect x="177.25" y="605.36" width="1.1" height="15.50" fill="#3c5010" opacity="0.8"/>
<rect x="73.00" y="604.21" width="74.60" height="17.85" fill="#c8a078" opacity="0.8"/><rect x="73.50" y="604.86" width="73.70" height="16.50" fill="url(#gr)"/><path d="M73.50 605.66 L81.10 613.11 L73.50 620.56Z" fill="#e2838b" opacity="0.9"/><path d="M147.20 605.66 L139.60 613.11 L147.20 620.56Z" fill="url(#tr)"/><path d="M147.20 613.11 L139.60 613.11 L147.20 620.56Z" fill="#000" opacity="0.06"/><rect x="146.10" y="605.36" width="1.1" height="15.50" fill="#3c1420" opacity="0.8"/>
<rect x="73.00" y="625.02" width="118.05" height="17.85" fill="#a8c850" opacity="0.6"/><rect x="73.50" y="625.67" width="117.15" height="16.50" fill="url(#gg)"/><path d="M73.50 626.47 L81.10 633.92 L73.50 641.37Z" fill="#b2da3c" opacity="0.9"/><path d="M190.65 626.47 L183.05 633.92 L190.65 641.37Z" fill="url(#tg)"/><path d="M190.65 633.92 L183.05 633.92 L190.65 641.37Z" fill="#000" opacity="0.06"/><rect x="189.55" y="626.17" width="1.1" height="15.50" fill="#3c5010" opacity="0.8"/>
<rect x="73.00" y="625.02" width="99.20" height="17.85" fill="#c8a078" opacity="0.8"/><rect x="73.50" y="625.67" width="98.30" height="16.50" fill="url(#gr)"/><path d="M73.50 626.47 L81.10 633.92 L73.50 641.37Z" fill="#e2838b" opacity="0.9"/><path d="M171.80 626.47 L164.20 633.92 L171.80 641.37Z" fill="url(#tr)"/><path d="M171.80 633.92 L164.20 633.92 L171.80 641.37Z" fill="#000" opacity="0.06"/><rect x="170.70" y="626.17" width="1.1" height="15.50" fill="#3c1420" opacity="0.8"/>
<rect x="73.00" y="645.83" width="308.70" height="17.85" fill="#a8c850" opacity="0.6"/><rect x="73.50" y="646.48" width="307.80" height="16.50" fill="url(#gg)"/><path d="M73.50 647.28 L81.10 654.73 L73.50 662.18Z" fill="#b2da3c" opacity="0.9"/><path d="M381.30 647.28 L373.70 654.73 L381.30 662.18Z" fill="url(#tg)"/><path d="M381.30 654.73 L373.70 654.73 L381.30 662.18Z" fill="#000" opacity="0.06"/><rect x="380.20" y="646.98" width="1.1" height="15.50" fill="#3c5010" opacity="0.8"/>
<rect x="73.00" y="645.83" width="246.80" height="17.85" fill="#c8a078" opacity="0.8"/><rect x="73.50" y="646.48" width="245.90" height="16.50" fill="url(#gr)"/><path d="M73.50 647.28 L81.10 654.73 L73.50 662.18Z" fill="#e2838b" opacity="0.9"/><path d="M319.40 647.28 L311.80 654.73 L319.40 662.18Z" fill="url(#tr)"/><path d="M319.40 654.73 L311.80 654.73 L319.40 662.18Z" fill="#000" opacity="0.06"/><rect x="318.30" y="646.98" width="1.1" height="15.50" fill="#3c1420" opacity="0.8"/>
<rect x="73.00" y="666.64" width="327.15" height="17.85" fill="#a8c850" opacity="0.6"/><rect x="73.50" y="667.29" width="326.25" height="16.50" fill="url(#gg)"/><path d="M73.50 668.09 L81.10 675.54 L73.50 682.99Z" fill="#b2da3c" opacity="0.9"/><path d="M399.75 668.09 L392.15 675.54 L399.75 682.99Z" fill="url(#tg)"/><path d="M399.75 675.54 L392.15 675.54 L399.75 682.99Z" fill="#000" opacity="0.06"/><rect x="398.65" y="667.79" width="1.1" height="15.50" fill="#3c5010" opacity="0.8"/>
<rect x="73.00" y="666.64" width="265.25" height="17.85" fill="#c8a078" opacity="0.8"/><rect x="73.50" y="667.29" width="264.35" height="16.50" fill="url(#gr)"/><path d="M73.50 668.09 L81.10 675.54 L73.50 682.99Z" fill="#e2838b" opacity="0.9"/><path d="M337.85 668.09 L330.25 675.54 L337.85 682.99Z" fill="url(#tr)"/><path d="M337.85 675.54 L330.25 675.54 L337.85 682.99Z" fill="#000" opacity="0.06"/><rect x="336.75" y="667.79" width="1.1" height="15.50" fill="#3c1420" opacity="0.8"/>
<rect x="73.00" y="687.45" width="93.45" height="17.85" fill="#a8c850" opacity="0.6"/><rect x="73.50" y="688.10" width="92.55" height="16.50" fill="url(#gg)"/><path d="M73.50 688.90 L81.10 696.35 L73.50 703.80Z" fill="#b2da3c" opacity="0.9"/><path d="M166.05 688.90 L158.45 696.35 L166.05 703.80Z" fill="url(#tg)"/><path d="M166.05 696.35 L158.45 696.35 L166.05 703.80Z" fill="#000" opacity="0.06"/><rect x="164.95" y="688.60" width="1.1" height="15.50" fill="#3c5010" opacity="0.8"/>
<rect x="73.00" y="687.45" width="74.60" height="17.85" fill="#c8a078" opacity="0.8"/><rect x="73.50" y="688.10" width="73.70" height="16.50" fill="url(#gr)"/><path d="M73.50 688.90 L81.10 696.35 L73.50 703.80Z" fill="#e2838b" opacity="0.9"/><path d="M147.20 688.90 L139.60 696.35 L147.20 703.80Z" fill="url(#tr)"/><path d="M147.20 696.35 L139.60 696.35 L147.20 703.80Z" fill="#000" opacity="0.06"/><rect x="146.10" y="688.60" width="1.1" height="15.50" fill="#3c1420" opacity="0.8"/>
<rect x="73.00" y="708.26" width="93.45" height="17.85" fill="#a8c850" opacity="0.6"/><rect x="73.50" y="708.91" width="92.55" height="16.50" fill="url(#gg)"/><path d="M73.50 709.71 L81.10 717.16 L73.50 724.61Z" fill="#b2da3c" opacity="0.9"/><path d="M166.05 709.71 L158.45 717.16 L166.05 724.61Z" fill="url(#tg)"/><path d="M166.05 717.16 L158.45 717.16 L166.05 724.61Z" fill="#000" opacity="0.06"/><rect x="164.95" y="709.41" width="1.1" height="15.50" fill="#3c5010" opacity="0.8"/>
<rect x="73.00" y="708.26" width="86.90" height="17.85" fill="#c8a078" opacity="0.8"/><rect x="73.50" y="708.91" width="86.00" height="16.50" fill="url(#gr)"/><path d="M73.50 709.71 L81.10 717.16 L73.50 724.61Z" fill="#e2838b" opacity="0.9"/><path d="M159.50 709.71 L151.90 717.16 L159.50 724.61Z" fill="url(#tr)"/><path d="M159.50 717.16 L151.90 717.16 L159.50 724.61Z" fill="#000" opacity="0.06"/><rect x="158.40" y="709.41" width="1.1" height="15.50" fill="#3c1420" opacity="0.8"/>
<rect x="73.00" y="729.07" width="364.05" height="17.85" fill="#a8c850" opacity="0.6"/><rect x="73.50" y="729.72" width="363.15" height="16.50" fill="url(#gg)"/><path d="M73.50 730.52 L81.10 737.97 L73.50 745.42Z" fill="#b2da3c" opacity="0.9"/><path d="M436.65 730.52 L429.05 737.97 L436.65 745.42Z" fill="url(#tg)"/><path d="M436.65 737.97 L429.05 737.97 L436.65 745.42Z" fill="#000" opacity="0.06"/><rect x="435.55" y="730.22" width="1.1" height="15.50" fill="#3c5010" opacity="0.8"/>
<rect x="73.00" y="729.07" width="234.50" height="17.85" fill="#c8a078" opacity="0.8"/><rect x="73.50" y="729.72" width="233.60" height="16.50" fill="url(#gr)"/><path d="M73.50 730.52 L81.10 737.97 L73.50 745.42Z" fill="#e2838b" opacity="0.9"/><path d="M307.10 730.52 L299.50 737.97 L307.10 745.42Z" fill="url(#tr)"/><path d="M307.10 737.97 L299.50 737.97 L307.10 745.42Z" fill="#000" opacity="0.06"/><rect x="306.00" y="730.22" width="1.1" height="15.50" fill="#3c1420" opacity="0.8"/>
<rect x="73.00" y="749.88" width="505.50" height="17.85" fill="#a8c850" opacity="0.6"/><rect x="73.50" y="750.53" width="504.60" height="16.50" fill="url(#gg)"/><path d="M73.50 751.33 L81.10 758.78 L73.50 766.23Z" fill="#b2da3c" opacity="0.9"/><path d="M578.10 751.33 L570.50 758.78 L578.10 766.23Z" fill="url(#tg)"/><path d="M578.10 758.78 L570.50 758.78 L578.10 766.23Z" fill="#000" opacity="0.06"/><rect x="577.00" y="751.03" width="1.1" height="15.50" fill="#3c5010" opacity="0.8"/>
<rect x="73.00" y="749.88" width="326.75" height="17.85" fill="#c8a078" opacity="0.8"/><rect x="73.50" y="750.53" width="325.85" height="16.50" fill="url(#gr)"/><path d="M73.50 751.33 L81.10 758.78 L73.50 766.23Z" fill="#e2838b" opacity="0.9"/><path d="M399.35 751.33 L391.75 758.78 L399.35 766.23Z" fill="url(#tr)"/><path d="M399.35 758.78 L391.75 758.78 L399.35 766.23Z" fill="#000" opacity="0.06"/><rect x="398.25" y="751.03" width="1.1" height="15.50" fill="#3c1420" opacity="0.8"/>
<rect x="73.00" y="770.69" width="111.90" height="17.85" fill="#a8c850" opacity="0.6"/><rect x="73.50" y="771.34" width="111.00" height="16.50" fill="url(#gg)"/><path d="M73.50 772.14 L81.10 779.59 L73.50 787.04Z" fill="#b2da3c" opacity="0.9"/><path d="M184.50 772.14 L176.90 779.59 L184.50 787.04Z" fill="url(#tg)"/><path d="M184.50 779.59 L176.90 779.59 L184.50 787.04Z" fill="#000" opacity="0.06"/><rect x="183.40" y="771.84" width="1.1" height="15.50" fill="#3c5010" opacity="0.8"/>
<rect x="73.00" y="770.69" width="74.60" height="17.85" fill="#c8a078" opacity="0.8"/><rect x="73.50" y="771.34" width="73.70" height="16.50" fill="url(#gr)"/><path d="M73.50 772.14 L81.10 779.59 L73.50 787.04Z" fill="#e2838b" opacity="0.9"/><path d="M147.20 772.14 L139.60 779.59 L147.20 787.04Z" fill="url(#tr)"/><path d="M147.20 779.59 L139.60 779.59 L147.20 787.04Z" fill="#000" opacity="0.06"/><rect x="146.10" y="771.84" width="1.1" height="15.50" fill="#3c1420" opacity="0.8"/>
<rect x="73.00" y="791.50" width="105.75" height="17.85" fill="#a8c850" opacity="0.6"/><rect x="73.50" y="792.15" width="104.85" height="16.50" fill="url(#gg)"/><path d="M73.50 792.95 L81.10 800.40 L73.50 807.85Z" fill="#b2da3c" opacity="0.9"/><path d="M178.35 792.95 L170.75 800.40 L178.35 807.85Z" fill="url(#tg)"/><path d="M178.35 800.40 L170.75 800.40 L178.35 807.85Z" fill="#000" opacity="0.06"/><rect x="177.25" y="792.65" width="1.1" height="15.50" fill="#3c5010" opacity="0.8"/>
<rect x="73.00" y="791.50" width="62.30" height="17.85" fill="#c8a078" opacity="0.8"/><rect x="73.50" y="792.15" width="61.40" height="16.50" fill="url(#gr)"/><path d="M73.50 792.95 L81.10 800.40 L73.50 807.85Z" fill="#e2838b" opacity="0.9"/><path d="M134.90 792.95 L127.30 800.40 L134.90 807.85Z" fill="url(#tr)"/><path d="M134.90 800.40 L127.30 800.40 L134.90 807.85Z" fill="#000" opacity="0.06"/><rect x="133.80" y="792.65" width="1.1" height="15.50" fill="#3c1420" opacity="0.8"/>
<g font-size="12.4">
<text x="230.7" y="76.1" fill="#ffffff" text-anchor="end">27</text>
<text x="273.9" y="76.1" fill="#000000" text-anchor="end">34</text>
<text x="396.5" y="96.9" fill="#ffffff" text-anchor="end">54</text>
<text x="482.7" y="96.9" fill="#000000" text-anchor="end">68</text>
<text x="126.2" y="117.6" fill="#ffffff" text-anchor="end">10</text>
<text x="151.9" y="117.6" fill="#000000" text-anchor="start">12</text>
<text x="126.2" y="138.4" fill="#ffffff" text-anchor="end">10</text>
<text x="158.9" y="139.5" fill="#000000" text-anchor="start">13</text>
<text x="218.4" y="159.2" fill="#ffffff" text-anchor="end">25</text>
<text x="292.3" y="159.2" fill="#000000" text-anchor="end">37</text>
<text x="365.8" y="180.0" fill="#ffffff" text-anchor="end">49</text>
<text x="550.3" y="180.0" fill="#000000" text-anchor="end">79</text>
<text x="126.2" y="200.8" fill="#ffffff" text-anchor="end">10</text>
<text x="150.9" y="201.6" fill="#000000" text-anchor="start">12</text>
<text x="132.4" y="221.5" fill="#ffffff" text-anchor="end">11</text>
<text x="165.2" y="221.5" fill="#000000" text-anchor="start">14</text>
<text x="304.4" y="242.3" fill="#ffffff" text-anchor="end">39</text>
<text x="384.5" y="242.3" fill="#000000" text-anchor="end">52</text>
<text x="390.4" y="263.1" fill="#ffffff" text-anchor="end">53</text>
<text x="513.5" y="263.1" fill="#000000" text-anchor="end">73</text>
<text x="126.2" y="283.9" fill="#ffffff" text-anchor="end">10</text>
<text x="157.1" y="283.9" fill="#000000" text-anchor="end">15</text>
<text x="163.1" y="304.6" fill="#ffffff" text-anchor="end">16</text>
<text x="187.9" y="304.6" fill="#000000" text-anchor="end">20</text>
<text x="273.7" y="325.4" fill="#ffffff" text-anchor="end">34</text>
<text x="372.2" y="325.4" fill="#000000" text-anchor="end">50</text>
<text x="384.3" y="346.2" fill="#ffffff" text-anchor="end">52</text>
<text x="525.8" y="346.2" fill="#000000" text-anchor="end">75</text>
<text x="150.8" y="367.0" fill="#ffffff" text-anchor="end">14</text>
<text x="181.7" y="367.0" fill="#000000" text-anchor="end">19</text>
<text x="163.1" y="387.8" fill="#ffffff" text-anchor="end">16</text>
<text x="194.0" y="387.8" fill="#000000" text-anchor="end">21</text>
<text x="267.5" y="408.5" fill="#ffffff" text-anchor="end">33</text>
<text x="439.7" y="408.5" fill="#000000" text-anchor="end">61</text>
<text x="353.5" y="429.3" fill="#ffffff" text-anchor="end">47</text>
<text x="525.8" y="429.3" fill="#000000" text-anchor="end">75</text>
<text x="132.4" y="450.1" fill="#ffffff" text-anchor="end">11</text>
<text x="169.4" y="450.1" fill="#000000" text-anchor="end">17</text>
<text x="138.5" y="470.9" fill="#ffffff" text-anchor="end">12</text>
<text x="163.3" y="470.9" fill="#000000" text-anchor="end">16</text>
<text x="310.5" y="491.6" fill="#ffffff" text-anchor="end">40</text>
<text x="464.3" y="491.6" fill="#000000" text-anchor="end">65</text>
<text x="464.1" y="512.4" fill="#ffffff" text-anchor="end">65</text>
<text x="593.3" y="512.4" fill="#000000" text-anchor="end">86</text>
<text x="138.5" y="533.2" fill="#ffffff" text-anchor="end">12</text>
<text x="187.9" y="533.2" fill="#000000" text-anchor="end">20</text>
<text x="132.4" y="554.0" fill="#ffffff" text-anchor="end">11</text>
<text x="157.1" y="554.0" fill="#000000" text-anchor="end">15</text>
<text x="316.7" y="574.8" fill="#ffffff" text-anchor="end">41</text>
<text x="445.9" y="574.8" fill="#000000" text-anchor="end">62</text>
<text x="476.4" y="595.5" fill="#ffffff" text-anchor="end">67</text>
<text x="507.3" y="595.5" fill="#000000" text-anchor="end">72</text>
<text x="138.5" y="616.3" fill="#ffffff" text-anchor="end">12</text>
<text x="169.4" y="616.3" fill="#000000" text-anchor="end">17</text>
<text x="163.1" y="637.1" fill="#ffffff" text-anchor="end">16</text>
<text x="194.0" y="637.1" fill="#000000" text-anchor="start">19</text>
<text x="310.5" y="657.9" fill="#ffffff" text-anchor="end">40</text>
<text x="372.2" y="657.9" fill="#000000" text-anchor="end">50</text>
<text x="329.0" y="678.6" fill="#ffffff" text-anchor="end">43</text>
<text x="390.6" y="678.6" fill="#000000" text-anchor="end">53</text>
<text x="138.5" y="699.4" fill="#ffffff" text-anchor="end">12</text>
<text x="168.2" y="701.4" fill="#000000" text-anchor="start">15</text>
<text x="150.8" y="720.2" fill="#ffffff" text-anchor="end">14</text>
<text x="170.3" y="720.2" fill="#000000" text-anchor="start">15</text>
<text x="298.2" y="741.0" fill="#ffffff" text-anchor="end">38</text>
<text x="427.5" y="741.0" fill="#000000" text-anchor="end">59</text>
<text x="390.4" y="761.8" fill="#ffffff" text-anchor="end">53</text>
<text x="568.8" y="761.8" fill="#000000" text-anchor="end">82</text>
<text x="138.5" y="782.5" fill="#ffffff" text-anchor="end">12</text>
<text x="175.6" y="782.5" fill="#000000" text-anchor="end">18</text>
<text x="126.2" y="803.3" fill="#ffffff" text-anchor="end">10</text>
<text x="169.4" y="803.3" fill="#000000" text-anchor="end">17</text>
</g>
<rect x="72.6" y="808.4" width="554.1" height="1.9" fill="#484848"/>
<rect x="72.3" y="808.5" width="1.7" height="5.3" fill="#484848"/>
<text x="70.1" y="830.6" font-size="11.9" fill="#6a6a6a" textLength="6.6" lengthAdjust="spacingAndGlyphs">0</text>
<rect x="133.3" y="808.5" width="1.7" height="5.3" fill="#484848"/>
<text x="127.9" y="830.6" font-size="11.9" fill="#6a6a6a" textLength="13.6" lengthAdjust="spacingAndGlyphs">10</text>
<rect x="194.3" y="808.5" width="1.7" height="5.3" fill="#484848"/>
<text x="188.9" y="830.6" font-size="11.9" fill="#6a6a6a" textLength="13.6" lengthAdjust="spacingAndGlyphs">20</text>
<rect x="256.3" y="808.5" width="1.7" height="5.3" fill="#484848"/>
<text x="250.9" y="830.6" font-size="11.9" fill="#6a6a6a" textLength="13.6" lengthAdjust="spacingAndGlyphs">30</text>
<rect x="317.3" y="808.5" width="1.7" height="5.3" fill="#484848"/>
<text x="311.9" y="830.6" font-size="11.9" fill="#6a6a6a" textLength="13.6" lengthAdjust="spacingAndGlyphs">40</text>
<rect x="379.3" y="808.5" width="1.7" height="5.3" fill="#484848"/>
<text x="373.9" y="830.6" font-size="11.9" fill="#6a6a6a" textLength="13.6" lengthAdjust="spacingAndGlyphs">50</text>
<rect x="440.3" y="808.5" width="1.7" height="5.3" fill="#484848"/>
<text x="434.9" y="830.6" font-size="11.9" fill="#6a6a6a" textLength="13.6" lengthAdjust="spacingAndGlyphs">60</text>
<rect x="502.3" y="808.5" width="1.7" height="5.3" fill="#484848"/>
<text x="496.9" y="830.6" font-size="11.9" fill="#6a6a6a" textLength="13.6" lengthAdjust="spacingAndGlyphs">70</text>
<rect x="563.3" y="808.5" width="1.7" height="5.3" fill="#484848"/>
<text x="557.9" y="830.6" font-size="11.9" fill="#6a6a6a" textLength="13.6" lengthAdjust="spacingAndGlyphs">80</text>
<rect x="625.3" y="808.5" width="1.7" height="5.3" fill="#484848"/>
<text x="619.9" y="830.6" font-size="11.9" fill="#6a6a6a" textLength="13.6" lengthAdjust="spacingAndGlyphs">90</text>
<text x="575.7" y="844.3" font-size="12.2" font-style="italic" fill="#9c9c9c" textLength="62.4" lengthAdjust="spacingAndGlyphs">Delta T (°C)</text>
<g font-size="11" fill="#111111">
<text x="42.3" y="75.0" textLength="19.9" lengthAdjust="spacingAndGlyphs">CPU</text>
<text x="40.4" y="95.8" textLength="21.8" lengthAdjust="spacingAndGlyphs">GPU</text>
<text x="44.8" y="116.5" textLength="15.8" lengthAdjust="spacingAndGlyphs">CM</text>
<text x="47.9" y="137.3" textLength="13.3" lengthAdjust="spacingAndGlyphs">DD</text>
<text x="42.3" y="158.1" textLength="19.9" lengthAdjust="spacingAndGlyphs">CPU</text>
<text x="40.4" y="178.9" textLength="21.8" lengthAdjust="spacingAndGlyphs">GPU</text>
<text x="44.8" y="199.7" textLength="15.8" lengthAdjust="spacingAndGlyphs">CM</text>
<text x="47.9" y="220.4" textLength="13.3" lengthAdjust="spacingAndGlyphs">DD</text>
<text x="42.3" y="241.2" textLength="19.9" lengthAdjust="spacingAndGlyphs">CPU</text>
<text x="40.4" y="262.0" textLength="21.8" lengthAdjust="spacingAndGlyphs">GPU</text>
<text x="44.8" y="282.8" textLength="15.8" lengthAdjust="spacingAndGlyphs">CM</text>
<text x="47.9" y="303.5" textLength="13.3" lengthAdjust="spacingAndGlyphs">DD</text>
<text x="42.3" y="324.3" textLength="19.9" lengthAdjust="spacingAndGlyphs">CPU</text>
<text x="40.4" y="345.1" textLength="21.8" lengthAdjust="spacingAndGlyphs">GPU</text>
<text x="44.8" y="365.9" textLength="15.8" lengthAdjust="spacingAndGlyphs">CM</text>
<text x="47.9" y="386.7" textLength="13.3" lengthAdjust="spacingAndGlyphs">DD</text>
<text x="42.3" y="407.4" textLength="19.9" lengthAdjust="spacingAndGlyphs">CPU</text>
<text x="40.4" y="428.2" textLength="21.8" lengthAdjust="spacingAndGlyphs">GPU</text>
<text x="44.8" y="449.0" textLength="15.8" lengthAdjust="spacingAndGlyphs">CM</text>
<text x="47.9" y="469.8" textLength="13.3" lengthAdjust="spacingAndGlyphs">DD</text>
<text x="42.3" y="490.5" textLength="19.9" lengthAdjust="spacingAndGlyphs">CPU</text>
<text x="40.4" y="511.3" textLength="21.8" lengthAdjust="spacingAndGlyphs">GPU</text>
<text x="44.8" y="532.1" textLength="15.8" lengthAdjust="spacingAndGlyphs">CM</text>
<text x="47.9" y="552.9" textLength="13.3" lengthAdjust="spacingAndGlyphs">DD</text>
<text x="42.3" y="573.7" textLength="19.9" lengthAdjust="spacingAndGlyphs">CPU</text>
<text x="40.4" y="594.4" textLength="21.8" lengthAdjust="spacingAndGlyphs">GPU</text>
<text x="44.8" y="615.2" textLength="15.8" lengthAdjust="spacingAndGlyphs">CM</text>
<text x="47.9" y="636.0" textLength="13.3" lengthAdjust="spacingAndGlyphs">DD</text>
<text x="42.3" y="656.8" textLength="19.9" lengthAdjust="spacingAndGlyphs">CPU</text>
<text x="40.4" y="677.5" textLength="21.8" lengthAdjust="spacingAndGlyphs">GPU</text>
<text x="44.8" y="698.3" textLength="15.8" lengthAdjust="spacingAndGlyphs">CM</text>
<text x="47.9" y="719.1" textLength="13.3" lengthAdjust="spacingAndGlyphs">DD</text>
<text x="42.3" y="739.9" textLength="19.9" lengthAdjust="spacingAndGlyphs">CPU</text>
<text x="40.4" y="760.7" textLength="21.8" lengthAdjust="spacingAndGlyphs">GPU</text>
<text x="44.8" y="781.4" textLength="15.8" lengthAdjust="spacingAndGlyphs">CM</text>
<text x="47.9" y="802.2" textLength="13.3" lengthAdjust="spacingAndGlyphs">DD</text>
</g>
<g font-size="11" fill="#111111">
<text transform="translate(25.4,115.0) rotate(-90)" textLength="24.2" lengthAdjust="spacingAndGlyphs">RV04</text>
<text transform="translate(25.4,197.1) rotate(-90)" textLength="22.3" lengthAdjust="spacingAndGlyphs">FT04</text>
<text transform="translate(25.4,306.2) rotate(-90)" textLength="74.2" lengthAdjust="spacingAndGlyphs">Carbide540 Air</text>
<text transform="translate(25.4,380.4) rotate(-90)" textLength="56.5" lengthAdjust="spacingAndGlyphs">Arc Midi R2</text>
<text transform="translate(25.4,454.9) rotate(-90)" textLength="39.2" lengthAdjust="spacingAndGlyphs">HAF-XM</text>
<text transform="translate(25.4,531.7) rotate(-90)" textLength="26.6" lengthAdjust="spacingAndGlyphs">Talon</text>
<text transform="translate(25.4,624.1) rotate(-90)" textLength="45.2" lengthAdjust="spacingAndGlyphs">Define R4</text>
<text transform="translate(25.4,711.7) rotate(-90)" textLength="54.1" lengthAdjust="spacingAndGlyphs">Antec P280</text>
<text transform="translate(25.4,803.0) rotate(-90)" textLength="70.5" lengthAdjust="spacingAndGlyphs">Obsidian 550D</text>
</g>
<text x="192.4" y="22.9" font-size="15.7" font-weight="bold" fill="#000" textLength="259.4" lengthAdjust="spacingAndGlyphs">Performances en refroidissement</text>
<rect x="186.4" y="30.700000000000003" width="10.100000000000001" height="9.8" fill="#88b02a" opacity="0.35"/><rect x="186.8" y="31.1" width="9.3" height="9.0" fill="#88b02a"/><path d="M186.8 31.1 L196.10000000000002 31.1 L191.45000000000002 35.6Z" fill="#a6d636"/><path d="M189.25000000000003 32.7 L193.65 32.7 L191.45000000000002 35.300000000000004Z" fill="#c4f052" opacity="0.8"/><path d="M196.10000000000002 31.1 L191.45000000000002 35.6 L196.10000000000002 40.1Z" fill="#506a1c"/><path d="M186.8 40.1 L191.45000000000002 35.6 L196.10000000000002 40.1Z" fill="#6e8e24"/><rect x="195.20000000000002" y="31.700000000000003" width="0.9" height="7.8" fill="#1c240a" opacity="0.75"/>
<text x="199.6" y="39.9" font-size="13.9" fill="#111" textLength="110.6" lengthAdjust="spacingAndGlyphs">Ventilation faible</text>
<rect x="333.3" y="30.700000000000003" width="10.100000000000001" height="9.8" fill="#b85a62" opacity="0.35"/><rect x="333.7" y="31.1" width="9.3" height="9.0" fill="#b85a62"/><path d="M333.7 31.1 L343.0 31.1 L338.34999999999997 35.6Z" fill="#d9727a"/><path d="M336.15 32.7 L340.54999999999995 32.7 L338.34999999999997 35.300000000000004Z" fill="#f0969e" opacity="0.8"/><path d="M343.0 31.1 L338.34999999999997 35.6 L343.0 40.1Z" fill="#6a3038"/><path d="M333.7 40.1 L338.34999999999997 35.6 L343.0 40.1Z" fill="#8e4650"/><rect x="342.1" y="31.700000000000003" width="0.9" height="7.8" fill="#24080e" opacity="0.75"/>
<text x="346" y="39.9" font-size="13.9" fill="#111" textLength="117.8" lengthAdjust="spacingAndGlyphs">Ventilation élevée</text>
</svg></body></html>
